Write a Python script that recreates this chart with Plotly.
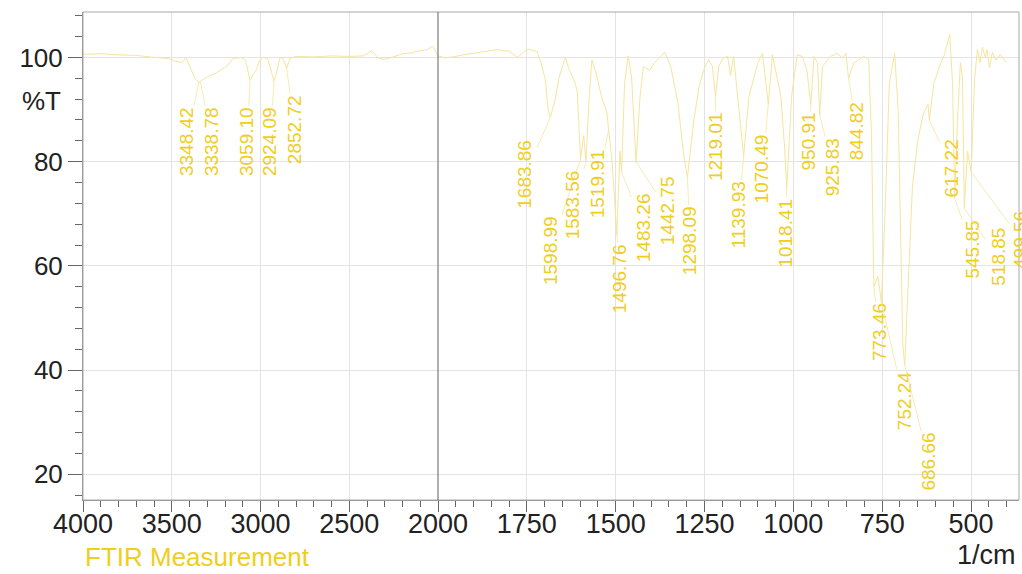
import plotly.graph_objects as go

# ---------------- data ----------------
wavenumber = [
    4000, 3900, 3800, 3700, 3600, 3520, 3470, 3442, 3420, 3400, 3370, 3348.42, 3338.78,
    3300, 3250, 3190, 3154, 3110, 3085, 3070, 3059.10, 3040, 3024, 3005, 2990, 2960,
    2940, 2924.09, 2910, 2890, 2870, 2852.72, 2835, 2800, 2700, 2600, 2500, 2420, 2372,
    2340, 2308, 2260, 2200, 2150, 2100, 2060, 2030, 2010, 2000,
    1980, 1950, 1930, 1880, 1834, 1800, 1775, 1760, 1746, 1721, 1710, 1698, 1690,
    1683.86, 1670, 1660, 1642, 1630, 1617, 1608, 1598.99, 1590, 1583.56, 1575, 1567,
    1555, 1540, 1525, 1519.91, 1510, 1496.76, 1488, 1483.26, 1475, 1465, 1455, 1442.75,
    1432, 1422, 1405, 1390, 1362, 1345, 1325, 1308, 1298.09, 1280, 1265, 1250, 1238,
    1228, 1219.01, 1210, 1197, 1185, 1177, 1168, 1150, 1139.93, 1125, 1100, 1087, 1075,
    1070.49, 1059, 1050, 1035, 1025, 1018.41, 1005, 989, 975, 962, 950.91, 942, 932,
    925.83, 918, 895, 877, 862, 852, 844.82, 830, 802, 788, 780, 773.46, 762, 752.24,
    742, 730, 715, 705, 692, 686.66, 678, 665, 650, 635, 621, 617.22, 605, 590, 575,
    560, 552, 545.85, 538, 530, 524, 518.85, 510, 499.56, 490, 482, 475, 468, 460, 455,
    448, 440, 430, 418, 400,
]
transmittance = [
    100.6, 100.7, 100.5, 100.4, 100.0, 99.8, 99.2, 99.0, 100.0, 98.5, 96.0, 95.2, 95.4,
    96.3, 97.0, 98.3, 99.8, 100.0, 99.5, 97.0, 95.6, 96.8, 97.6, 99.5, 100.0, 99.8,
    97.5, 95.5, 97.0, 100.0, 99.7, 97.8, 99.8, 100.2, 100.1, 100.3, 100.2, 100.3, 101.3,
    100.0, 99.6, 100.0, 100.7, 100.9, 101.3, 101.5, 102.2, 101.0, 100.3,
    99.9, 100.2, 100.5, 101.0, 101.5, 101.2, 100.0, 101.0, 101.6, 101.1, 99.0, 95.7, 90.0,
    88.5, 92.0, 96.0, 100.0, 97.5, 95.7, 93.5, 80.5, 85.0, 80.0, 92.0, 99.5,
    97.0, 92.5, 89.5, 86.0, 80.0, 66.0, 82.0, 78.0, 95.0, 100.3, 96.0, 80.0,
    92.0, 98.3, 97.5, 99.0, 101.0, 98.3, 91.3, 81.0, 77.0, 88.0, 94.5, 98.0, 99.6,
    98.3, 92.5, 98.3, 99.9, 100.2, 96.5, 100.2, 88.0, 81.0, 92.5, 99.0, 100.8, 94.0,
    91.0, 100.5, 97.6, 92.5, 83.0, 75.0, 92.5, 100.5, 100.2, 97.6, 91.0, 100.2, 98.9,
    89.0, 98.3, 100.2, 100.8, 99.9, 100.8, 96.0, 98.9, 100.2, 99.6, 85.0, 56.0, 58.0, 53.0,
    70.0, 95.0, 100.8, 90.0, 45.0, 41.0, 55.0, 75.0, 84.0, 89.0, 91.0, 88.0, 95.0, 98.0, 100.5,
    104.5, 95.0, 73.0, 88.0, 99.0, 96.0, 71.0, 82.0, 78.0, 96.0, 101.5, 99.0, 102.0, 100.0, 101.5,
    98.0, 101.0, 99.5, 100.5, 99.0,
]

peak_wn = [
    3348.42, 3338.78, 3059.10, 2924.09, 2852.72,
    1683.86, 1598.99, 1583.56, 1519.91, 1496.76, 1483.26, 1442.75, 1298.09, 1219.01,
    1139.93, 1070.49, 1018.41, 950.91, 925.83, 844.82, 773.46, 752.24, 686.66, 617.22,
    545.85, 518.85, 499.56,
]

x_ticks_left = [4000, 3500, 3000, 2500, 2000]
x_ticks_right = [1750, 1500, 1250, 1000, 750, 500]
y_ticks = [20, 40, 60, 80, 100]

# ---------------- label placement (layout) ----------------
label_wn = [
    3413, 3272, 3075, 2945, 2804,
    1755, 1684, 1619, 1552, 1487, 1422, 1354, 1290, 1219,
    1154, 1087, 1022, 957, 890, 820, 759, 689, 619, 555,
    495, 425, 359,
]
label_T = [
    83.8, 83.8, 83.8, 83.8, 86.1,
    77.5, 62.9, 71.7, 75.7, 57.5, 67.3, 70.6, 64.8, 82.9,
    69.8, 78.6, 66.3, 83.8, 79.0, 85.9, 47.3, 34.2, 22.4, 78.8,
    63.1, 61.7, 65.0,
]

CURVE = "#F6E59E"
LABEL = "#EFCE1E"
FONT = "Arial, Liberation Sans, sans-serif"

split = 2000
left_idx = [i for i, w in enumerate(wavenumber) if w >= split]
right_idx = [i for i, w in enumerate(wavenumber) if w <= split]

fig = go.Figure()
fig.add_trace(go.Scatter(
    x=[wavenumber[i] for i in left_idx], y=[transmittance[i] for i in left_idx],
    mode="lines", line=dict(color=CURVE, width=1), xaxis="x", yaxis="y",
    hoverinfo="skip", showlegend=False))
fig.add_trace(go.Scatter(
    x=[wavenumber[i] for i in right_idx], y=[transmittance[i] for i in right_idx],
    mode="lines", line=dict(color=CURVE, width=1), xaxis="x2", yaxis="y",
    hoverinfo="skip", showlegend=False))

tmap = dict(zip(wavenumber, transmittance))
annotations = []
for wn, lw, lt in zip(peak_wn, label_wn, label_T):
    ref = "x" if wn > split else "x2"
    annotations.append(dict(
        x=wn, y=tmap[wn], xref=ref, yref="y",
        ax=lw, ay=lt, axref=ref, ayref="y",
        text=f"{wn:.2f}", textangle=-90,
        font=dict(family=FONT, size=19, color=LABEL),
        showarrow=True, arrowhead=0, arrowwidth=0.8, arrowcolor=CURVE,
        standoff=0, startstandoff=0,
    ))

annotations += [
    dict(text="%T", x=0, xref="paper", xanchor="right", xshift=-20,
         y=91.6, yref="y", yanchor="middle", showarrow=False,
         font=dict(family=FONT, size=26, color="#222222")),
    dict(text="FTIR Measurement", x=0, xref="paper", xanchor="left",
         y=-0.117, yref="paper", yanchor="middle", showarrow=False,
         font=dict(family=FONT, size=26, color=LABEL)),
    dict(text="1/cm", x=0.999, xref="paper", xanchor="right",
         y=-0.113, yref="paper", yanchor="middle", showarrow=False,
         font=dict(family=FONT, size=27, color="#222222")),
]

d = 355 / 936
common_x = dict(
    showgrid=True, gridcolor="#e3e3e3", gridwidth=1,
    ticks="outside", ticklen=11, tickcolor="#666666",
    showline=True, linecolor="#909090", linewidth=1,
    tickfont=dict(family=FONT, size=27, color="#222222"),
    ticklabelstandoff=-11,
    zeroline=False, anchor="y",
)
fig.update_layout(
    width=1022, height=574,
    margin=dict(l=83, r=3, t=12, b=74, autoexpand=False),
    paper_bgcolor="white", plot_bgcolor="white",
    xaxis=dict(domain=[0, d], range=[4000, 2000], tickmode="array",
               tickvals=x_ticks_left, ticktext=[str(v) for v in x_ticks_left],
               minor=dict(dtick=100, tick0=0, ticks="outside", ticklen=6,
                          tickcolor="#666666", showgrid=False),
               **common_x),
    xaxis2=dict(domain=[d, 1], range=[2000, 365], tickmode="array",
                tickvals=x_ticks_right, ticktext=[str(v) for v in x_ticks_right],
                minor=dict(dtick=50, tick0=0, ticks="outside", ticklen=6,
                           tickcolor="#666666", showgrid=False),
                **common_x),
    yaxis=dict(range=[15.07, 108.72], tickmode="array", tickvals=y_ticks,
               ticktext=[str(v) for v in y_ticks],
               showgrid=True, gridcolor="#e3e3e3", zeroline=False,
               ticks="outside", ticklen=14, tickcolor="#666666",
               minor=dict(dtick=4, tick0=0, ticks="outside", ticklen=7,
                          tickcolor="#666666", showgrid=False),
               showline=True, linecolor="#909090", linewidth=1,
               tickfont=dict(family=FONT, size=26, color="#222222"),
               anchor="x"),
    annotations=annotations,
    shapes=[
        dict(type="rect", xref="paper", yref="paper", x0=0, x1=1, y0=0, y1=1,
             line=dict(color="#a8a8a8", width=1), layer="above"),
        dict(type="line", xref="paper", yref="paper", x0=d, x1=d, y0=0, y1=1,
             line=dict(color="#606060", width=1), layer="above"),
    ],
)

fig.write_html("out.html")
